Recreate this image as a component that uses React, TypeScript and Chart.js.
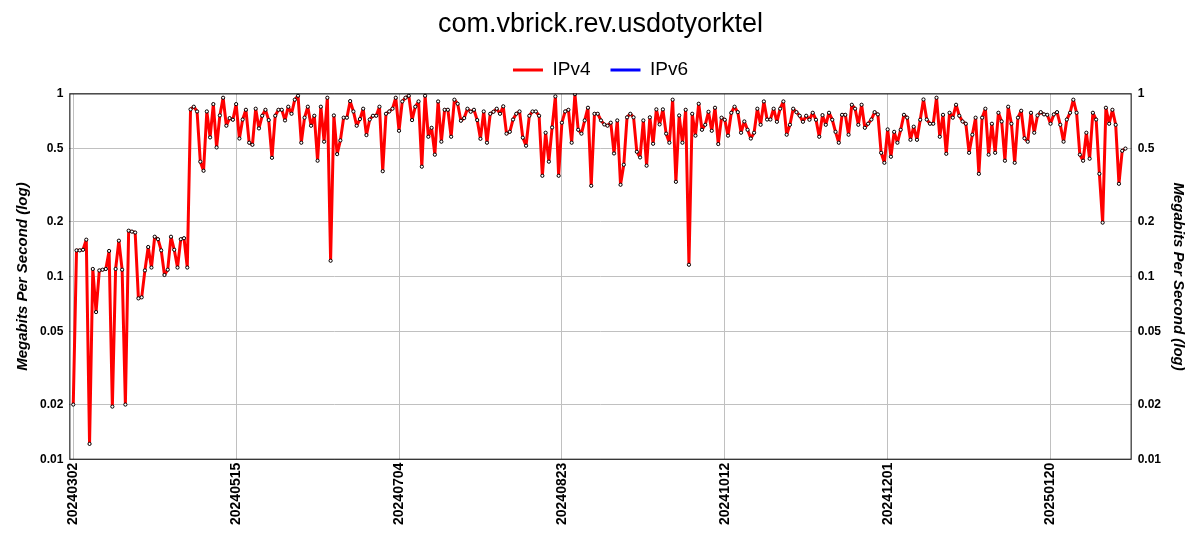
import React, { useEffect, useRef } from "react";
import { Chart, registerables } from "chart.js";

Chart.register(...registerables);

const chartTitle = "com.vbrick.rev.usdotyorktel";
const seriesNames = ["IPv4", "IPv6"];
const seriesColors = ["#ff0000", "#0000ff"];
const xTickLabels = ["20240302", "20240515", "20240704", "20240823", "20241012", "20241201", "20250120"];
const xTickStep = 50;
const yTickValues = [0.01, 0.02, 0.05, 0.1, 0.2, 0.5, 1];
const yAxisTitle = "Megabits Per Second (log)";

const ipv4Values = [
  0.02, 0.139, 0.139, 0.14, 0.159, 0.0122, 0.11, 0.064, 0.108, 0.109, 0.11, 0.138, 0.0195, 0.11, 0.157, 0.109,
  0.02, 0.178, 0.176, 0.174, 0.076, 0.077, 0.108, 0.145, 0.112, 0.165,
  0.16, 0.139, 0.102, 0.109, 0.165, 0.14, 0.112, 0.16, 0.162, 0.112,
  0.818, 0.846, 0.797, 0.424, 0.378, 0.797, 0.575, 0.874, 0.507, 0.758, 0.947, 0.666, 0.733, 0.718, 0.874, 0.567, 0.72,
  0.814, 0.538, 0.524, 0.825, 0.644, 0.755, 0.814, 0.715, 0.445, 0.755, 0.814, 0.814, 0.712, 0.846, 0.774, 0.924,
  0.971, 0.538, 0.737, 0.846, 0.666, 0.755, 0.429, 0.846, 0.545, 0.947, 0.122,
  0.758, 0.466, 0.554, 0.737, 0.737, 0.908, 0.797, 0.666, 0.724, 0.825, 0.592, 0.72, 0.755, 0.755, 0.846, 0.376,
  0.774, 0.797, 0.825, 0.947, 0.625, 0.904, 0.947, 0.971, 0.715, 0.846, 0.904,
  0.398, 0.971, 0.58, 0.649, 0.463, 0.904, 0.545, 0.814, 0.814, 0.58, 0.924, 0.878, 0.709, 0.733, 0.825, 0.794,
  0.814, 0.715, 0.565, 0.797, 0.538, 0.774, 0.794, 0.825, 0.774, 0.85, 0.603,
  0.617, 0.72, 0.774, 0.797, 0.573, 0.518, 0.755, 0.797, 0.797, 0.755, 0.355, 0.61, 0.424, 0.652, 0.963, 0.355,
  0.692, 0.797, 0.814, 0.538, 0.99, 0.633, 0.603, 0.712, 0.835, 0.313, 0.774,
  0.774, 0.712, 0.677, 0.666, 0.692, 0.47, 0.712, 0.317, 0.408, 0.74, 0.774, 0.74, 0.48, 0.447, 0.712, 0.403,
  0.74, 0.531, 0.818, 0.677, 0.818, 0.603, 0.538, 0.924, 0.329, 0.758, 0.538,
  0.814, 0.116, 0.774, 0.588, 0.878, 0.633, 0.674, 0.794, 0.625, 0.835, 0.529, 0.737, 0.718, 0.588, 0.784, 0.846,
  0.79, 0.61, 0.703, 0.633, 0.567, 0.61, 0.825, 0.674, 0.904, 0.72, 0.72,
  0.825, 0.7, 0.825, 0.904, 0.595, 0.674, 0.825, 0.79, 0.755, 0.7, 0.755, 0.718, 0.784, 0.718, 0.58, 0.761,
  0.674, 0.784, 0.718, 0.617, 0.538, 0.764, 0.764, 0.595, 0.867, 0.825, 0.674,
  0.867, 0.649, 0.683, 0.72, 0.79, 0.768, 0.474, 0.418, 0.636, 0.451, 0.617, 0.538, 0.633, 0.764, 0.737, 0.558,
  0.658, 0.558, 0.718, 0.927, 0.72, 0.683, 0.683, 0.947, 0.58, 0.764, 0.468,
  0.784, 0.737, 0.867, 0.755, 0.703, 0.683, 0.474, 0.595, 0.737, 0.364, 0.737, 0.825, 0.463, 0.683, 0.474, 0.784,
  0.703, 0.429, 0.846, 0.683, 0.418, 0.737, 0.804, 0.569, 0.545, 0.784, 0.61,
  0.758, 0.79, 0.768, 0.764, 0.683, 0.768, 0.79, 0.674, 0.545, 0.72, 0.784, 0.924, 0.784, 0.463, 0.429, 0.61,
  0.44, 0.784, 0.72, 0.364, 0.197, 0.835, 0.683, 0.814, 0.674, 0.321, 0.486, 0.5,
];
const ipv6Values: number[] = [];

const FONT = "'Liberation Sans', Arial, sans-serif";

const borderPlugin = {
  id: "plotBorder",
  afterDraw(chart: any) {
    const { ctx, chartArea } = chart;
    ctx.save();
    ctx.strokeStyle = "#000";
    ctx.lineWidth = 1;
    ctx.strokeRect(chartArea.left + 0.5, chartArea.top + 0.5, chartArea.width - 1, chartArea.height - 1);
    ctx.restore();
  },
};

export default function App() {
  const canvasRef = useRef<HTMLCanvasElement | null>(null);

  useEffect(() => {
    if (!canvasRef.current) return;
    const yTicksSetter = (scale: any) => {
      scale.ticks = yTickValues.map((v) => ({ value: v }));
    };
    const yTickFmt = (v: any) => String(v);
    const yAxisCommon = {
      type: "logarithmic" as const,
      min: 0.01,
      max: 1,
      afterBuildTicks: yTicksSetter,
      ticks: {
        color: "#000",
        font: { family: FONT, size: 12, weight: "bold" as const },
        padding: 6,
        callback: yTickFmt,
      },
      title: {
        display: true,
        text: yAxisTitle,
        color: "#000",
        font: { family: FONT, size: 15, weight: "bold" as const, style: "italic" as const },
        padding: { top: 0, bottom: 2 },
      },
      border: { display: false },
    };

    const seriesData = [ipv4Values, ipv6Values];

    const chart = new Chart(canvasRef.current, {
      type: "line",
      data: {
        datasets: seriesNames.map((name, k) => ({
          label: name,
          data: seriesData[k].map((v, i) => ({ x: i, y: v })),
          borderColor: seriesColors[k],
          backgroundColor: seriesColors[k],
          borderWidth: 3,
          borderJoinStyle: "round",
          borderCapStyle: "round",
          pointRadius: 1.6,
          pointBackgroundColor: "#ffffff",
          pointBorderColor: "#000000",
          pointBorderWidth: 1,
          tension: 0,
          yAxisID: "y",
        })),
      },
      options: {
        animation: false,
        responsive: true,
        maintainAspectRatio: false,
        layout: { padding: { left: 14, right: 13, top: 0, bottom: 22 } },
        plugins: {
          title: {
            display: true,
            text: chartTitle,
            color: "#000",
            font: { family: FONT, size: 27, weight: "normal" },
            padding: { top: 8, bottom: 0 },
          },
          legend: {
            display: true,
            labels: {
              color: "#000",
              font: { family: FONT, size: 19 },
              usePointStyle: true,
              pointStyle: "line",
              pointStyleWidth: 30,
              padding: 20,
              generateLabels: (c: any) =>
                c.data.datasets.map((ds: any, i: number) => ({
                  text: ds.label,
                  fillStyle: ds.borderColor,
                  strokeStyle: ds.borderColor,
                  lineWidth: 3,
                  pointStyle: "line",
                  hidden: false,
                  datasetIndex: i,
                  fontColor: "#000",
                })),
            },
          },
          tooltip: { enabled: false },
        },
        scales: {
          x: {
            type: "linear",
            min: -1.2,
            max: 324.9,
            afterBuildTicks: (scale: any) => {
              scale.ticks = xTickLabels.map((_, k) => ({ value: k * xTickStep }));
            },
            ticks: {
              autoSkip: false,
              maxRotation: 90,
              minRotation: 90,
              color: "#000",
              font: { family: FONT, size: 14, weight: "bold" },
              padding: 3,
              callback: (v: any) => xTickLabels[Math.round(Number(v) / xTickStep)] ?? "",
            },
            grid: { color: "#c0c0c0", drawTicks: false },
            border: { display: false },
          },
          xTopSpacer: {
            type: "linear",
            position: "top",
            min: 0,
            max: 1,
            ticks: { display: false },
            grid: { display: false, drawTicks: false },
            border: { display: false },
            afterFit: (scale: any) => {
              scale.height = 4;
            },
          },
          y: {
            ...yAxisCommon,
            position: "left",
            grid: { color: "#c0c0c0", drawTicks: false },
          },
          y2: {
            ...yAxisCommon,
            position: "right",
            grid: { display: false, drawTicks: false },
          },
        },
      } as any,
      plugins: [borderPlugin],
    });
    return () => chart.destroy();
  }, []);

  return (
    <div style={{ position: "fixed", left: 0, top: 0, width: 1200, height: 550, background: "#fff" }}>
      <canvas ref={canvasRef} />
    </div>
  );
}
